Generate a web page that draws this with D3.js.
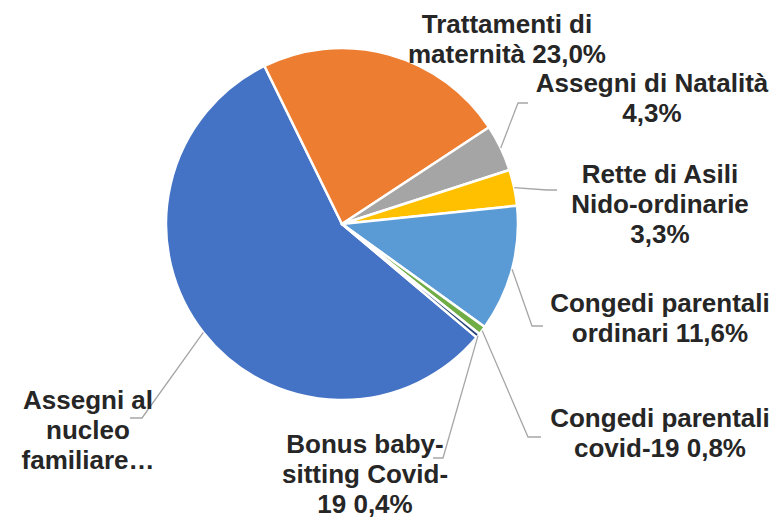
<!DOCTYPE html>
<html>
<head>
<meta charset="utf-8">
<script src="https://cdn.jsdelivr.net/npm/d3@7"></script>
<style>
  body { margin: 0; background: #fff; }
  .lbl { font-family: "Liberation Sans", Arial, sans-serif; font-weight: bold; font-size: 26px; fill: #262626; }
  .leader { fill: none; stroke: #a6a6a6; stroke-width: 1.3; }
</style>
</head>
<body>
<div id="chart"></div>
<script>
// categories in series order (Excel order, first slice = Assegni al nucleo)
var categories = ["Assegni al nucleo familiare", "Trattamenti di maternità", "Assegni di Natalità",
    "Rette di Asili Nido-ordinarie", "Congedi parentali ordinari", "Congedi parentali covid-19",
    "Bonus baby-sitting Covid-19"];
var values = [56.6, 23.0, 4.3, 3.3, 11.6, 0.8, 0.4];
var colors = ["#4472C4", "#ED7D31", "#A5A5A5", "#FFC000", "#5B9BD5", "#70AD47", "#264478"];
// label text, already broken in lines as in the picture
var labelLines = [
    ["Assegni al", "nucleo", "familiare…"],
    ["Trattamenti di", "maternità 23,0%"],
    ["Assegni di Natalità", "4,3%"],
    ["Rette di Asili", "Nido-ordinarie", "3,3%"],
    ["Congedi parentali", "ordinari 11,6%"],
    ["Congedi parentali", "covid-19 0,8%"],
    ["Bonus baby-", "sitting Covid-", "19 0,4%"]
];

// layout of labels: centre x, first baseline, leader elbow and end (null = no leader)
var labelLayout = [
    { x: 88, y: 409, elbow: [142, 418], end: [130, 418] },
    { x: 507, y: 33, elbow: null, end: null },
    { x: 652, y: 92, elbow: [518, 103], end: [528, 103] },
    { x: 660, y: 183, elbow: [547, 190], end: [557, 190] },
    { x: 660, y: 312, elbow: [532, 326], end: [543, 326] },
    { x: 660, y: 427, elbow: [528, 437], end: [541, 437] },
    { x: 365, y: 453, elbow: [443, 458], end: [433, 458] }
];

var width = 780, height = 518;
var cx = 342, cy = 224, radius = 176;
var lineH = 30;
var deg = Math.PI / 180;

var svg = d3.select("#chart").append("svg")
    .attr("width", width)
    .attr("height", height);

var pie = d3.pie()
    .sort(null)
    .value(function (d) { return d; })
    .startAngle(130.1 * deg)
    .endAngle(490.1 * deg);

var arcs = pie(values);

var arc = d3.arc()
    .innerRadius(0)
    .outerRadius(radius);

var g = svg.append("g")
    .attr("transform", "translate(" + cx + "," + cy + ")");

g.selectAll("path.slice")
    .data(arcs)
    .enter()
    .append("path")
    .attr("class", "slice")
    .attr("d", arc)
    .attr("fill", function (d, i) { return colors[i]; })
    .attr("stroke", "#fff")
    .attr("stroke-width", 2.5)
    .attr("stroke-linejoin", "round");

// leader lines: from the slice edge at its mid angle to the elbow, then to the label
svg.selectAll("polyline.leader")
    .data(arcs.filter(function (d, i) { return labelLayout[i].elbow; }))
    .enter()
    .append("polyline")
    .attr("class", "leader")
    .attr("points", function (d) {
        var L = labelLayout[d.index];
        var a = (d.startAngle + d.endAngle) / 2;
        var sx = cx + radius * Math.sin(a), sy = cy - radius * Math.cos(a);
        return [[sx, sy], L.elbow, L.end].map(function (p) { return p.join(","); }).join(" ");
    });

// labels
var labels = svg.selectAll("text.lbl")
    .data(labelLines)
    .enter()
    .append("text")
    .attr("class", "lbl")
    .attr("text-anchor", "middle");

labels.selectAll("tspan")
    .data(function (d, i) { return d.map(function (t) { return { t: t, i: i }; }); })
    .enter()
    .append("tspan")
    .attr("x", function (d) { return labelLayout[d.i].x; })
    .attr("y", function (d, j) { return labelLayout[d.i].y + j * lineH; })
    .text(function (d) { return d.t; });
</script>
</body>
</html>
